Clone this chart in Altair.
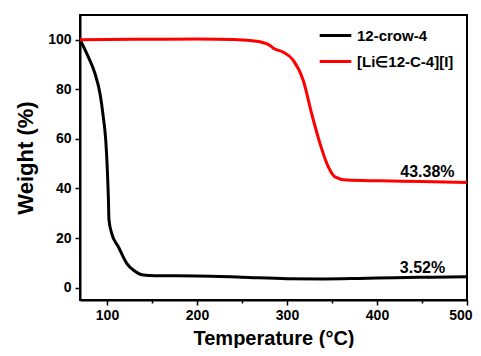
import altair as alt
import pandas as pd

# 12-crow-4
crown_t = [70, 79.3, 86.7, 92.2, 95.9, 98.6, 100.4, 101.5, 102.2, 105.2, 112.6, 121.9, 129.2, 140.4, 153.3, 200, 250, 300, 340, 380, 420, 460, 500]
crown_w = [100, 93.0, 86.3, 78.3, 68.8, 59.5, 47.4, 36.6, 27.3, 21.9, 16.5, 9.8, 7.1, 5.1, 4.8, 4.7, 4.2, 3.6, 3.5, 3.7, 4.0, 4.2, 4.4]

# [Li∈12-C-4][I]
li_t = [70, 100, 150, 200, 240, 258.9, 275.6, 281.1, 284.8, 295.9, 307, 318.1, 327.4, 336.7, 345.9, 353.3, 366.3, 403.3, 450, 500]
li_w = [100, 100.1, 100.2, 100.3, 100.1, 99.7, 98.6, 97.7, 96.6, 95.0, 91.7, 83.6, 70.2, 58.1, 48.7, 44.7, 43.4, 43.1, 42.8, 42.4]

series = ["12-crow-4", "[Li\u220812-C-4][I]"]
colors = ["#000000", "#ff0000"]

ann_text = ["43.38%", "3.52%"]
ann_t = [456, 450.6]
ann_w = [46.7, 7.9]

df = pd.concat([
    pd.DataFrame({"T": crown_t, "W": crown_w, "s": series[0]}),
    pd.DataFrame({"T": li_t, "W": li_w, "s": series[1]}),
])
ann = pd.DataFrame({"T": ann_t, "W": ann_w, "label": ann_text})

FONT = "Liberation Sans"

xaxis = alt.Axis(
    title="Temperature (\u00b0C)", values=list(range(100, 501, 50)),
    labelExpr="datum.value % 100 == 0 ? datum.label : ''",
    tickSize=alt.condition("datum.value % 100 == 0", alt.value(5), alt.value(3)),
    grid=False, domainColor="black", domainWidth=2, tickColor="black", tickWidth=1.5,
    labelFont=FONT, labelFontSize=14, labelFontWeight="bold", labelColor="black",
    titleFont=FONT, titleFontSize=20, titleFontWeight="bold", titleColor="black",
    labelPadding=3, titlePadding=6, labelFlush=True, labelFlushOffset=5,
)
yaxis = alt.Axis(
    title="Weight (%)", values=list(range(0, 101, 10)),
    labelExpr="datum.value % 20 == 0 ? datum.label : ''",
    tickSize=alt.condition("datum.value % 20 == 0", alt.value(5), alt.value(3)),
    grid=False, domainColor="black", domainWidth=2, tickColor="black", tickWidth=1.5,
    labelFont=FONT, labelFontSize=14, labelFontWeight="bold", labelColor="black",
    titleFont=FONT, titleFontSize=22, titleFontWeight="bold", titleColor="black",
    labelPadding=4, titlePadding=10,
)

x = alt.X("T:Q", scale=alt.Scale(domain=[70, 500], nice=False, zero=False), axis=xaxis)
y = alt.Y("W:Q", scale=alt.Scale(domain=[-5, 110], nice=False, zero=False), axis=yaxis)

lines = alt.Chart(df).mark_line(strokeWidth=3, interpolate="monotone").encode(
    x=x, y=y,
    color=alt.Color("s:N", scale=alt.Scale(domain=series, range=colors),
                    legend=alt.Legend(title=None, orient="none", legendX=238, legendY=3,
                                      padding=0, symbolType="stroke", symbolStrokeWidth=3,
                                      symbolSize=1000, labelFont=FONT, labelFontSize=15,
                                      labelFontWeight="bold", labelColor="black",
                                      rowPadding=-15, labelOffset=4)),
)

texts = alt.Chart(ann).mark_text(font=FONT, fontSize=16, fontWeight="bold", color="black").encode(
    x="T:Q", y="W:Q", text="label:N"
)

chart = (lines + texts).properties(
    width=387, height=285,
    autosize=alt.AutoSizeParams(type="none"),
    padding={"left": 72, "top": 7, "right": 6, "bottom": 48},
).configure_view(stroke="black", strokeWidth=2)

chart.save("out.html", embed_options={"renderer": "svg", "actions": False})
